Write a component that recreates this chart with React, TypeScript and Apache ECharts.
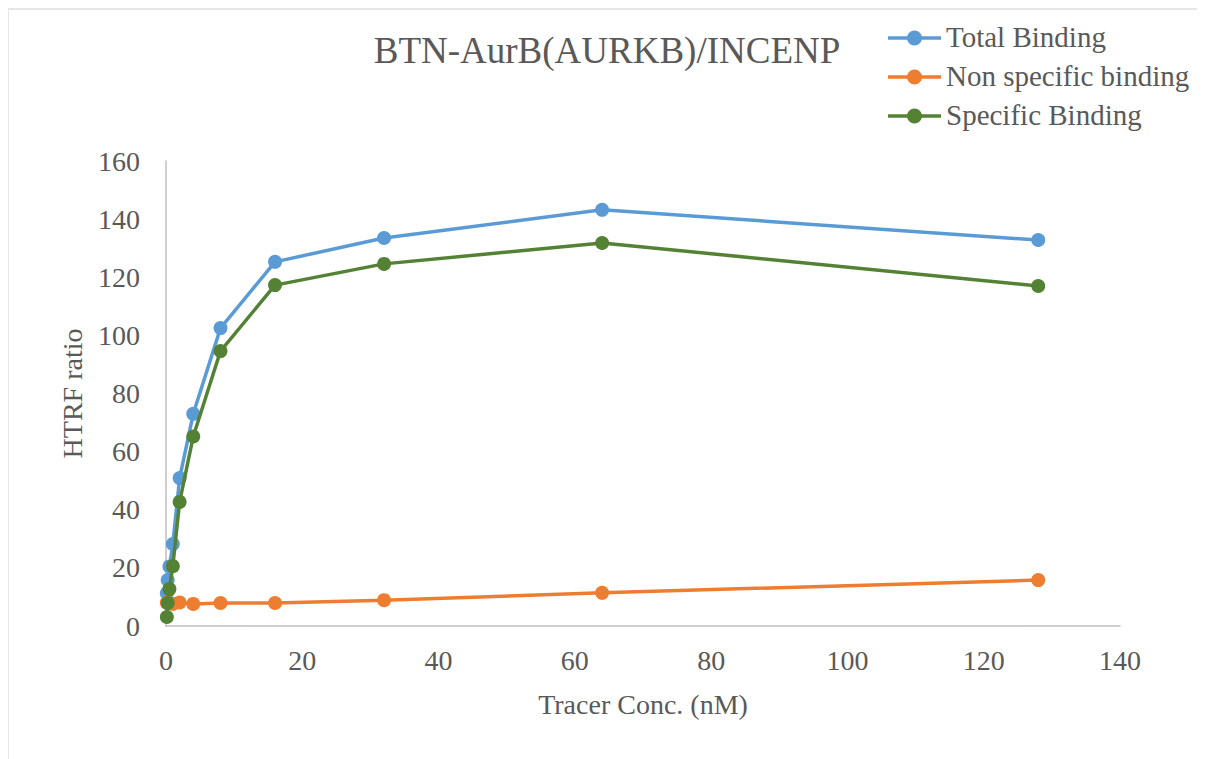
import React, { useEffect, useRef } from "react";
import * as echarts from "echarts";

const concentrations = [0.125, 0.25, 0.5, 1, 2, 4, 8, 16, 32, 64, 128];
const totalBinding = [11.3, 15.8, 20.5, 28.2, 50.9, 73.0, 102.5, 125.3, 133.5, 143.2, 132.8];
const nonSpecificBinding = [8.0, 7.9, 7.8, 7.6, 8.1, 7.6, 7.9, 7.9, 8.9, 11.4, 15.8];
const specificBinding = [3.1, 7.9, 12.7, 20.6, 42.7, 65.2, 94.6, 117.3, 124.6, 131.8, 117.0];
const seriesNames = ["Total Binding", "Non specific binding", "Specific Binding"];
const seriesColors = ["#5B9BD5", "#ED7D31", "#548235"];

const FONT = '"Liberation Serif", "Times New Roman", serif';
const TEXT = "#595959";

export default function App() {
  const ref = useRef<HTMLDivElement>(null);
  useEffect(() => {
    if (!ref.current) return;
    const chart = echarts.init(ref.current, undefined, { renderer: "svg" });
    const values = [totalBinding, nonSpecificBinding, specificBinding];

    const legendX = 879;
    const legendY0 = 28;
    const legendStep = 39;
    const legendIcons: any[] = [];
    const legendTitles: any[] = [];
    seriesNames.forEach((name, i) => {
      const y = legendY0 + i * legendStep;
      legendIcons.push(
        {
          type: "line",
          silent: true,
          shape: { x1: legendX, y1: y, x2: legendX + 53, y2: y },
          style: { stroke: seriesColors[i], lineWidth: 3.5 },
        },
        {
          type: "circle",
          silent: true,
          shape: { cx: legendX + 26.5, cy: y, r: 7.5 },
          style: { fill: seriesColors[i] },
        }
      );
      legendTitles.push({
        text: name,
        left: legendX + 58,
        top: y - 16,
        padding: 0,
        textStyle: { fontFamily: FONT, fontSize: 29, fontWeight: "normal", color: TEXT },
      });
    });

    chart.setOption({
      animation: false,
      backgroundColor: "#ffffff",
      textStyle: { fontFamily: FONT, color: TEXT },
      title: [
        {
          text: "BTN-AurB(AURKB)/INCENP",
          left: "center",
          top: 17,
          textStyle: { fontFamily: FONT, fontSize: 37, fontWeight: "normal", color: TEXT },
        },
        ...legendTitles,
      ],
      legend: { show: false, data: seriesNames },
      graphic: legendIcons,
      grid: { left: 157, top: 151, width: 954, height: 465, containLabel: false },
      xAxis: {
        type: "value",
        min: 0,
        max: 140,
        interval: 20,
        name: "Tracer Conc. (nM)",
        nameLocation: "middle",
        nameGap: 64,
        nameTextStyle: { fontFamily: FONT, fontSize: 28, color: TEXT },
        axisLine: { show: true, lineStyle: { color: "#BFBFBF", width: 1.5 } },
        axisTick: { show: false },
        splitLine: { show: false },
        axisLabel: { fontFamily: FONT, fontSize: 28, color: TEXT, margin: 20 },
      },
      yAxis: {
        type: "value",
        min: 0,
        max: 160,
        interval: 20,
        name: "HTRF ratio",
        nameLocation: "middle",
        nameGap: 80,
        nameTextStyle: { fontFamily: FONT, fontSize: 28, color: TEXT },
        axisLine: { show: true, lineStyle: { color: "#BFBFBF", width: 1.5 } },
        axisTick: { show: false },
        splitLine: { show: false },
        axisLabel: { fontFamily: FONT, fontSize: 28, color: TEXT, margin: 26 },
      },
      series: seriesNames.map((name, i) => ({
        name,
        type: "line",
        data: concentrations.map((c, j) => [c, values[i][j]]),
        symbol: "circle",
        symbolSize: 14,
        showSymbol: true,
        lineStyle: { color: seriesColors[i], width: 3.5 },
        itemStyle: { color: seriesColors[i] },
        z: 2 + i,
      })),
    });
    return () => chart.dispose();
  }, []);
  return (
    <div
      ref={ref}
      style={{
        width: 1198,
        height: 751,
        borderLeft: "2px solid #E6E6E6",
        borderTop: "2px solid #E6E6E6",
        boxSizing: "border-box",
        marginLeft: -1,
      }}
    />
  );
}
